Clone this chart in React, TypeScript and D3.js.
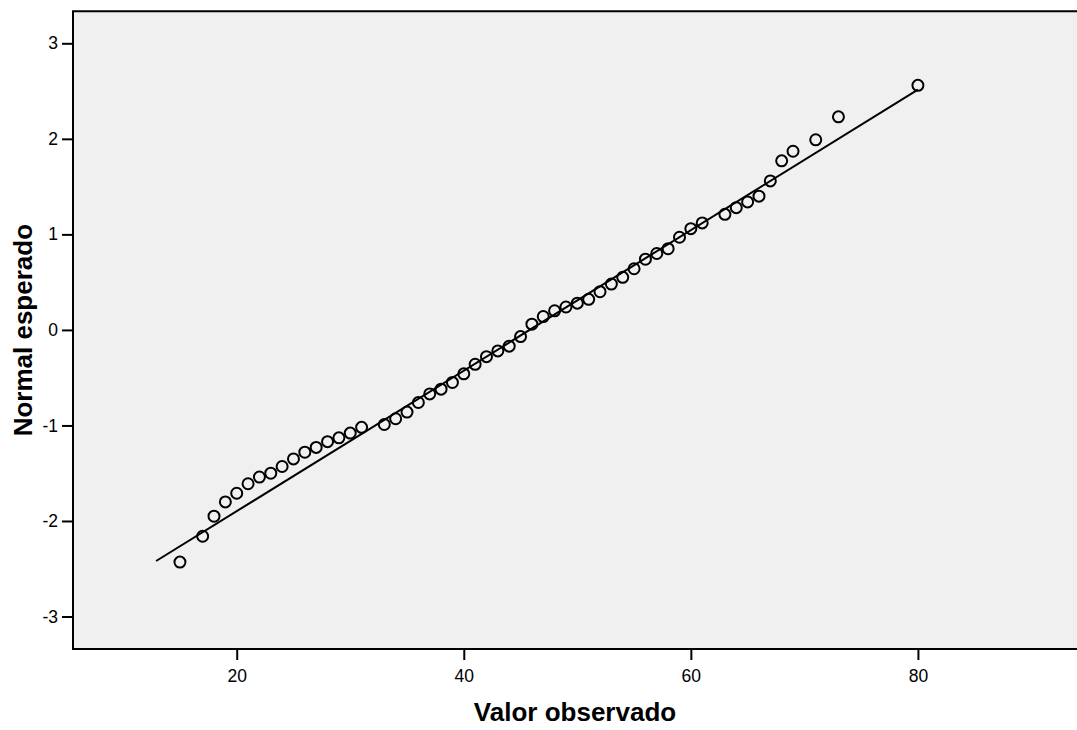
import * as d3 from 'd3';
import React, { useRef, useEffect } from 'react';

const observed = [
    15, 17, 18, 19, 20, 21, 22, 23, 24, 25, 26, 27, 28, 29, 30, 31,
    33, 34, 35, 36, 37, 38, 39, 40, 41, 42, 43, 44, 45, 46, 47, 48, 49, 50,
    51, 52, 53, 54, 55, 56, 57, 58, 59, 60, 61,
    63, 64, 65, 66, 67, 68, 69, 71, 73, 80
];
const expected = [
    -2.43, -2.16, -1.95, -1.80, -1.71, -1.61, -1.54, -1.50, -1.43, -1.35, -1.28, -1.23, -1.17, -1.13, -1.08, -1.02,
    -0.99, -0.93, -0.86, -0.76, -0.67, -0.62, -0.55, -0.46, -0.36, -0.28, -0.22, -0.17, -0.07, 0.06, 0.14, 0.20, 0.24, 0.28,
    0.32, 0.40, 0.48, 0.55, 0.64, 0.74, 0.80, 0.85, 0.97, 1.06, 1.12,
    1.21, 1.28, 1.34, 1.40, 1.56, 1.77, 1.87, 1.99, 2.23, 2.56
];

// reference line (normal with mean / sd of the sample), drawn over this x range
const lineX = [12.9, 80];
const lineMean = 45.8;
const lineSd = 13.6;

const xTicks = [20, 40, 60, 80];
const yTicks = [-3, -2, -1, 0, 1, 2, 3];

const xTitle = 'Valor observado';
const yTitle = 'Normal esperado';

const App = () => {
    const svgRef = useRef(null);

    useEffect(() => {
        const width = 1077;
        const height = 730;
        const left = 73;
        const top = 11.3;
        const right = 1078;
        const bottom = 649;
        const font = 'Arial, "Liberation Sans", sans-serif';

        const svg = d3.select(svgRef.current);
        svg.selectAll('*').remove();
        svg.attr('width', width).attr('height', height);

        const x = d3.scaleLinear().domain([5.58, 94.1]).range([left, right]);
        const y = d3.scaleLinear().domain([-3.34, 3.335]).range([bottom, top]);

        // plot background
        svg.append('rect')
            .attr('x', left)
            .attr('y', top)
            .attr('width', right - left)
            .attr('height', bottom - top)
            .attr('fill', '#f0f0f0');

        // frame: top, left, bottom
        svg.append('path')
            .attr('d', `M${right},${top}H${left}V${bottom}H${right}`)
            .attr('fill', 'none')
            .attr('stroke', '#000')
            .attr('stroke-width', 2);

        // hyphen instead of unicode minus, like the original
        const fmt = (d) => String(d);

        // x axis
        const gx = svg.append('g').attr('transform', `translate(0,${bottom})`);
        gx.call(d3.axisBottom(x).tickValues(xTicks).tickSize(11).tickSizeOuter(0).tickPadding(10).tickFormat(fmt));
        gx.select('.domain').remove();
        gx.selectAll('line').attr('stroke-width', 2);
        gx.selectAll('text').attr('font-family', font).attr('font-size', 17.5).attr('fill', '#000');

        // y axis
        const gy = svg.append('g').attr('transform', `translate(${left},0)`);
        gy.call(d3.axisLeft(y).tickValues(yTicks).tickSize(11).tickSizeOuter(0).tickPadding(4).tickFormat(fmt));
        gy.select('.domain').remove();
        gy.selectAll('line').attr('stroke-width', 2);
        gy.selectAll('text').attr('font-family', font).attr('font-size', 17.5).attr('fill', '#000');

        // reference line
        const line = d3.line()
            .x((d) => x(d))
            .y((d) => y((d - lineMean) / lineSd));
        svg.append('path')
            .attr('d', line(lineX))
            .attr('fill', 'none')
            .attr('stroke', '#000')
            .attr('stroke-width', 2);

        // points
        svg.append('g')
            .selectAll('circle')
            .data(observed)
            .enter().append('circle')
            .attr('cx', (d) => x(d))
            .attr('cy', (d, i) => y(expected[i]))
            .attr('r', 5.5)
            .attr('fill', 'none')
            .attr('stroke', '#000')
            .attr('stroke-width', 2);

        // axis titles
        svg.append('text')
            .attr('x', (left + 1077) / 2)
            .attr('y', 721)
            .attr('text-anchor', 'middle')
            .attr('font-family', font)
            .attr('font-weight', 'bold')
            .attr('font-size', 26)
            .text(xTitle);

        svg.append('text')
            .attr('transform', `translate(32,${(top + bottom) / 2}) rotate(-90)`)
            .attr('text-anchor', 'middle')
            .attr('font-family', font)
            .attr('font-weight', 'bold')
            .attr('font-size', 26)
            .text(yTitle);
    }, []);

    return (
        <div style={{ position: 'absolute', left: 0, top: 0 }}>
            <svg ref={svgRef} style={{ display: 'block' }}></svg>
        </div>
    );
};

export default App;
